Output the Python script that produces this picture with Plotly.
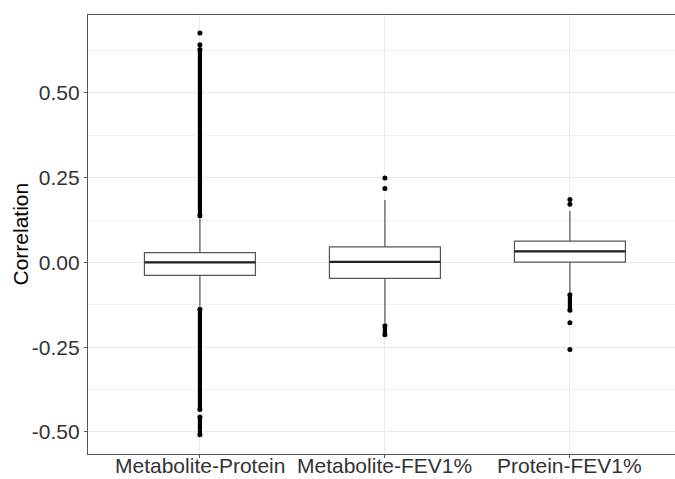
import plotly.graph_objects as go

categories = ["Metabolite-Protein", "Metabolite-FEV1%", "Protein-FEV1%"]
q1 = [-0.038, -0.047, 0.001]
median = [0.000, 0.002, 0.033]
q3 = [0.029, 0.046, 0.063]
lower_whisker = [-0.130, -0.178, -0.088]
upper_whisker = [0.130, 0.184, 0.152]

# isolated outliers per category
outliers = [
    [0.677, 0.642],
    [0.249, 0.218],
    [0.186, 0.172, -0.178, -0.257],
]
# dense runs of overlapping outliers (start, end) per category
dense_runs = [
    [(0.138, 0.628), (-0.138, -0.434), (-0.456, -0.508)],
    [(-0.187, -0.213)],
    [(-0.095, -0.141)],
]

y_tickvals = [0.5, 0.25, 0.0, -0.25, -0.5]
y_ticktext = ["0.50", "0.25", "0.00", "-0.25", "-0.50"]
y_minor = [0.625, 0.375, 0.125, -0.125, -0.375]
y_title = "Correlation"

FONT = "Liberation Sans, Arial, sans-serif"

xs = list(range(len(categories)))
fig = go.Figure()

fig.add_trace(go.Box(
    x=xs, q1=q1, median=median, q3=q3,
    lowerfence=lower_whisker, upperfence=upper_whisker,
    width=0.6, whiskerwidth=0, boxpoints=False,
    fillcolor="white", line=dict(color="#555555", width=1.2),
    showlegend=False, hoverinfo="skip",
))

# thicker median lines (ggplot style)
for i, m in enumerate(median):
    fig.add_trace(go.Scatter(
        x=[i - 0.3, i + 0.3], y=[m, m], mode="lines",
        line=dict(color="#222222", width=2.2), showlegend=False, hoverinfo="skip",
    ))

for i, runs in enumerate(dense_runs):
    for a, b in runs:
        fig.add_trace(go.Scatter(
            x=[i, i], y=[a, b], mode="lines+markers",
            line=dict(color="black", width=4.2),
            marker=dict(color="black", size=5),
            showlegend=False, hoverinfo="skip",
        ))

for i, pts in enumerate(outliers):
    fig.add_trace(go.Scatter(
        x=[i] * len(pts), y=pts, mode="markers",
        marker=dict(color="black", size=5),
        showlegend=False, hoverinfo="skip",
    ))

# category labels as annotations (placed tight under the axis, like ggplot)
for i, c in enumerate(categories):
    fig.add_annotation(
        x=i, y=0, xref="x", yref="paper", text=c, showarrow=False,
        xanchor="center", yanchor="top", yshift=1, borderpad=0,
        font=dict(family=FONT, size=21, color="#333333"),
    )

fig.add_annotation(
    x=0, y=0.5, xref="paper", yref="paper", text=y_title, showarrow=False,
    textangle=-90, xanchor="center", yanchor="middle", xshift=-68,
    font=dict(family=FONT, size=21, color="black"),
)

fig.update_layout(
    width=675, height=479,
    margin=dict(l=88, r=0, t=15, b=25),
    plot_bgcolor="white", paper_bgcolor="white",
    font=dict(family=FONT, size=21, color="#333333"),
    xaxis=dict(
        range=[-0.605, 2.568], tickvals=xs, ticktext=categories, showticklabels=False,
        showgrid=True, gridcolor="#EBEBEB", gridwidth=1.1,
        showline=True, mirror=True, linecolor="#555555", linewidth=1.2,
        ticks="outside", ticklen=3, tickcolor="#555555",
        zeroline=False, automargin=False,
    ),
    yaxis=dict(
        range=[-0.565, 0.730], tickvals=y_tickvals, ticktext=y_ticktext,
        showgrid=True, gridcolor="#EBEBEB", gridwidth=1.1,
        minor=dict(tickvals=y_minor, showgrid=True, gridcolor="#F2F2F2", gridwidth=0.6, ticks=""),
        showline=True, mirror=False, linecolor="#555555", linewidth=1.2,
        ticks="outside", ticklen=3, tickcolor="#555555",
        tickfont=dict(size=21, color="#333333"), zeroline=False,
        automargin=False,
    ),
)

fig.write_html("out.html")
